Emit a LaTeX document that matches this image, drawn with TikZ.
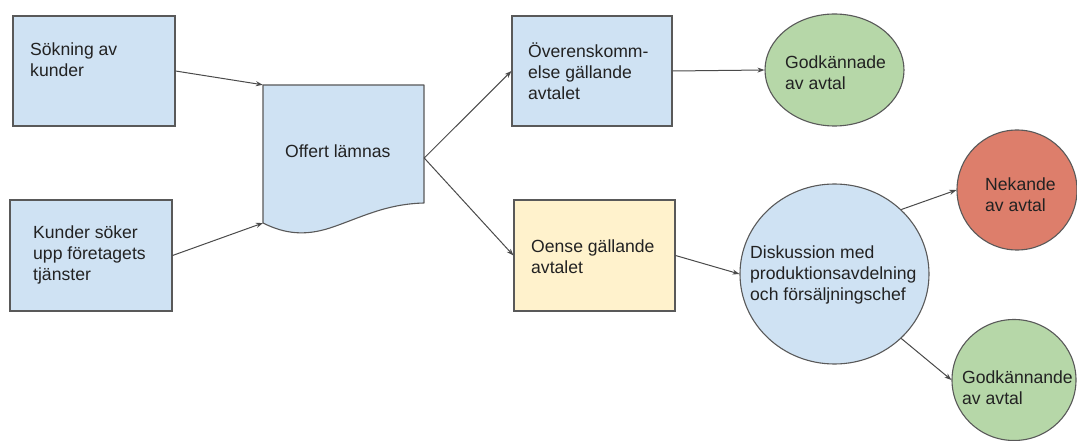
\documentclass[tikz,border=0pt]{standalone}
\usepackage{fontspec}
\setmainfont{Liberation Sans}
\usetikzlibrary{shapes.geometric,arrows.meta}
\definecolor{bord}{HTML}{595959}
\definecolor{lblue}{HTML}{CFE2F3}
\definecolor{lyellow}{HTML}{FFF2CC}
\definecolor{lgreen}{HTML}{B6D7A8}
\definecolor{lred}{HTML}{DD7E6B}
\definecolor{arr}{HTML}{4A4A4A}
\definecolor{ink}{HTML}{222222}
\newcommand\mystr{\rule{0pt}{18pt}}
\begin{document}
\begin{tikzpicture}[x=1pt,y=-1pt,
  shapebox/.style={rectangle,draw=bord,line width=1.1pt,inner sep=0pt},
  oval/.style={ellipse,draw=bord,line width=1.1pt,inner sep=0pt},
  txt/.style={anchor=north west,inner sep=0pt,align=left,font=\fontsize{17.6}{21}\selectfont,text=ink},
  conn/.style={draw=arr,line width=1pt,-{Stealth[length=7pt,width=5pt]}}
]
\useasboundingbox[fill=white] (0,0) rectangle (1077,441);

% shapes
\node[shapebox,fill=lblue,minimum width=162pt,minimum height=110pt] (A) at (94,71) {};
\node[shapebox,fill=lblue,minimum width=162pt,minimum height=111pt] (B) at (91,255.5) {};
\node[draw=none,minimum width=161pt,minimum height=146pt,inner sep=0pt] (doc) at (343.5,158) {};
\filldraw[fill=lblue,draw=bord,line width=1.1pt,line join=round]
  (263,223) -- (263,85) -- (424,85) -- (424,203)
  .. controls (385,204) and (360,218) .. (330,228)
  .. controls (305,236) and (285,234) .. (263,223) -- cycle;
\coordinate (docbl) at (263,223);
\node[shapebox,fill=lblue,minimum width=160pt,minimum height=110pt] (C) at (592,71) {};
\node[shapebox,fill=lyellow,minimum width=161pt,minimum height=111pt] (D) at (594.5,255.5) {};
\node[oval,fill=lgreen,minimum width=139pt,minimum height=112pt] (G1) at (834.5,70) {};
\node[oval,fill=lblue,minimum width=189pt,minimum height=180pt] (Disc) at (834.5,274) {};
\node[oval,fill=lred,minimum width=120pt,minimum height=120pt] (Nek) at (1017,190) {};
\node[oval,fill=lgreen,minimum width=124pt,minimum height=121pt] (G2) at (1014,380) {};

% texts
\node[txt] (tA) at (30,37) {\mystr Sökning av\\kunder};
\node[txt] (tB) at (33,220) {\mystr Kunder söker\\upp företagets\\tjänster};
\node[txt] (tdoc) at (285,139) {\mystr Offert lämnas};
\node[txt] (tC) at (528,39) {\mystr Överenskomm-\\else gällande\\avtalet};
\node[txt] (tD) at (531,234) {\mystr Oense gällande\\avtalet};
\node[txt] (tG1) at (785,50) {\mystr Godkännade\\av avtal};
\node[txt] (tDisc) at (750,240) {\mystr Diskussion med\\produktionsavdelning\\och försäljningschef};
\node[txt] (tNek) at (985,172) {\mystr Nekande\\av avtal};
\node[txt] (tG2) at (962,365) {\mystr Godkännande\\av avtal};

% connectors
\draw[conn] (A.east) -- (doc.north west);
\draw[conn] (B.east) -- (docbl);
\draw[conn] (doc.east) -- (C.west);
\draw[conn] (doc.east) -- (D.west);
\draw[conn] (C.east) -- (G1.west);
\draw[conn] (D.east) -- (Disc.west);
\draw[conn] (Disc.44) -- (Nek.west);
\draw[conn] (Disc.-44) -- (G2.west);
\end{tikzpicture}
\end{document}
